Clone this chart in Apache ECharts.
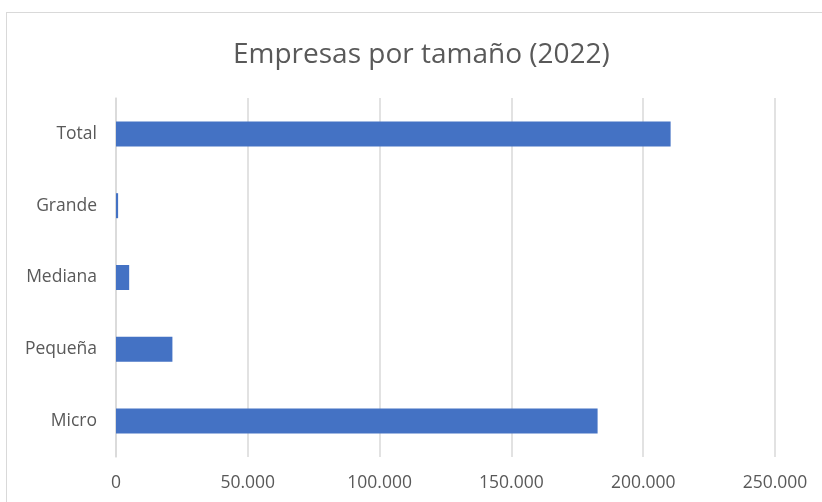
<!DOCTYPE html>
<html>
<head>
<meta charset="utf-8">
<script src="https://cdn.jsdelivr.net/npm/echarts@6/dist/echarts.min.js"></script>
<style>
  html, body { margin: 0; padding: 0; background: #fff; }
  #frame {
    position: absolute; left: 6px; top: 12px; width: 900px; height: 600px;
    border: 1px solid #d9d9d9; box-sizing: border-box;
  }
  #chart { position: absolute; left: 0; top: 0; width: 822px; height: 502px; }
</style>
</head>
<body>
<div id="frame"></div>
<div id="chart"></div>
<script>
const categories = ['Micro', 'Pequeña', 'Mediana', 'Grande', 'Total']
const empresas = [182700, 21400, 5000, 800, 210400]
const xTicks = [0, 50000, 100000, 150000, 200000, 250000]

const chart = echarts.init(document.getElementById('chart'))

chart.setOption({
  animation: false,
  title: {
    text: 'Empresas por tamaño (2022)',
    left: 228,
    top: 36,
    textStyle: {
      fontFamily: 'Open Sans',
      fontWeight: 'normal',
      fontSize: 28,
      color: '#595959'
    }
  },
  grid: { left: 116, right: 47, top: 98, bottom: 45 },
  xAxis: {
    type: 'value',
    min: xTicks[0],
    max: xTicks[xTicks.length - 1],
    interval: xTicks[1] - xTicks[0],
    axisLine: { show: false },
    axisTick: { show: false },
    splitLine: { lineStyle: { color: '#d9d9d9', width: 1.5 } },
    axisLabel: {
      color: '#595959',
      fontFamily: 'Open Sans',
      fontSize: 17.5,
      margin: 17,
      formatter: (v) => v.toLocaleString('de-DE')
    }
  },
  yAxis: {
    type: 'category',
    data: categories,
    axisLine: { show: true, lineStyle: { color: '#d9d9d9', width: 1.5 } },
    axisTick: { show: false },
    axisLabel: {
      color: '#595959',
      fontFamily: 'Open Sans',
      fontSize: 17.5,
      margin: 19
    }
  },
  series: [
    {
      type: 'bar',
      data: empresas,
      barWidth: 25,
      itemStyle: { color: '#4472C4' }
    }
  ]
})
</script>
</body>
</html>
